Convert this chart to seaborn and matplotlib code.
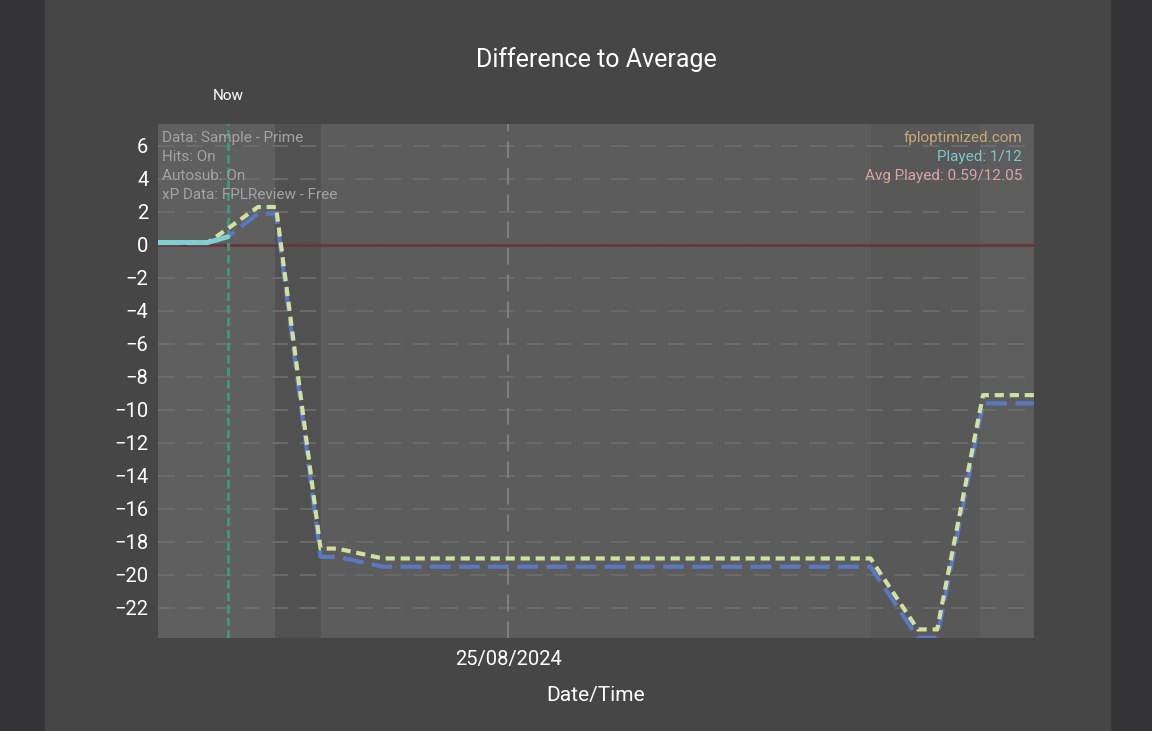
import matplotlib
matplotlib.use("Agg")
import matplotlib.pyplot as plt
import matplotlib.dates as mdates
import seaborn as sns
import pandas as pd

# ---- data ----
times = ["2024-08-23 06:00", "2024-08-23 12:00", "2024-08-23 14:24", "2024-08-23 18:00",
         "2024-08-23 20:10", "2024-08-24 01:30", "2024-08-24 03:30", "2024-08-24 09:00",
         "2024-08-26 19:30", "2024-08-27 01:10", "2024-08-27 03:30", "2024-08-27 09:00",
         "2024-08-27 15:07"]
diff_with_hits = [0.15, 0.15, 1.0, 2.3, 2.3, -18.4, -18.4, -19.0, -19.0, -23.3, -23.3, -9.1, -9.1]
diff_no_hits = [0.1, 0.1, 0.5, 1.9, 1.9, -18.9, -18.9, -19.5, -19.5, -23.8, -23.8, -9.6, -9.6]
played_times = ["2024-08-23 06:00", "2024-08-23 12:00", "2024-08-23 14:24"]
played_vals = [0.15, 0.15, 0.5]
now_time = "2024-08-23 14:24"
band_edges = ["2024-08-23 06:00", "2024-08-23 20:00", "2024-08-24 01:30",
              "2024-08-26 19:30", "2024-08-27 08:40", "2024-08-27 15:07"]
band_colors = ["#5e5f5e", "#505150", "#5b5c5b", "#575857", "#5c5d5c"]
x_tick = "2024-08-25"
y_ticks = list(range(-22, 7, 2))
info_left = ["Data: Sample - Prime", "Hits: On", "Autosub: On", "xP Data: FPLReview - Free"]
info_right = [("fploptimized.com", "#c9a876"), ("Played: 1/12", "#7fc6cc"),
              ("Avg Played: 0.59/12.05", "#d7a4ab")]

df = pd.DataFrame({"time": pd.to_datetime(times), "hits": diff_with_hits, "nohits": diff_no_hits})
dfp = pd.DataFrame({"time": pd.to_datetime(played_times), "val": played_vals})

sns.set_theme(style="dark")
plt.rcParams["font.family"] = ["Roboto", "DejaVu Sans"]
plt.rcParams["axes.unicode_minus"] = True

fig = plt.figure(figsize=(11.52, 7.31), dpi=100, facecolor="#343436")
panel = matplotlib.patches.Rectangle((45 / 1152, 0), (1110 - 45) / 1152, 1,
                                     transform=fig.transFigure, color="#464646", zorder=-10)
fig.patches.append(panel)
ax = fig.add_axes([158 / 1152, 1 - 638 / 731, (1034 - 158) / 1152, (638 - 124) / 731])
ax.set_zorder(1)
ax.set_facecolor("#5b5c5b")

edges = pd.to_datetime(band_edges)
for i, c in enumerate(band_colors):
    ax.axvspan(edges[i], edges[i + 1], color=c, lw=0, zorder=0)

# grid
for yv in y_ticks:
    ax.axhline(yv, color="#6d6e6d", lw=1.2, ls=(0, (10, 7)), zorder=1)
ax.axvline(pd.Timestamp(x_tick), color="#858685", lw=1.2, ls=(0, (10, 6)), zorder=1)
ax.axhline(0, color="#633838", lw=2.0, zorder=2)
ax.axvline(pd.Timestamp(now_time), color="#3f9a7a", lw=2, ls=(0, (3, 1.5)), zorder=2)

sns.lineplot(data=df, x="time", y="nohits", ax=ax, color="#5a77c2", lw=3, zorder=3)
ax.lines[-1].set_dashes((5, 2))
sns.lineplot(data=df, x="time", y="hits", ax=ax, color="#cfe0a0", lw=3, zorder=4)
ax.lines[-1].set_dashes((2.2, 1.4))
sns.lineplot(data=dfp, x="time", y="val", ax=ax, color="#7fd0d2", lw=3.5, zorder=5)

ax.set_xlim(edges[0], edges[-1])
ax.set_ylim(-23.82, 7.33)
ax.set_yticks(y_ticks)
ax.set_xticks([pd.Timestamp(x_tick)])
ax.xaxis.set_major_formatter(mdates.DateFormatter("%d/%m/%Y"))
ax.tick_params(axis="y", colors="white", labelsize=14.5, length=0, pad=7)
ax.tick_params(axis="x", colors="white", labelsize=14.5, length=0, pad=9)
ax.set_xlabel("Date/Time", color="white", fontsize=15, labelpad=12)
ax.set_ylabel("")
for s in ax.spines.values():
    s.set_visible(False)
ax.grid(False)

fig.text(596 / 1152, 1 - 60 / 731, "Difference to Average", color="white", fontsize=18,
         ha="center", va="center")
ax.text(mdates.date2num(pd.Timestamp(now_time)), 1 + 28 / 514, "Now",
        transform=ax.get_xaxis_transform(), color="white", fontsize=11,
        ha="center", va="center", clip_on=False)

for i, t in enumerate(info_left):
    ax.text(4 / 876, 1 - (14 + 19 * i) / 514, t, transform=ax.transAxes, color="#a2a3a2",
            fontsize=11, ha="left", va="center", zorder=6)
for i, (t, c) in enumerate(info_right):
    ax.text(1 - 12 / 876, 1 - (14 + 19 * i) / 514, t, transform=ax.transAxes, color=c,
            fontsize=11, ha="right", va="center", zorder=6)

fig.savefig("out.png", dpi=100, facecolor=fig.get_facecolor())
